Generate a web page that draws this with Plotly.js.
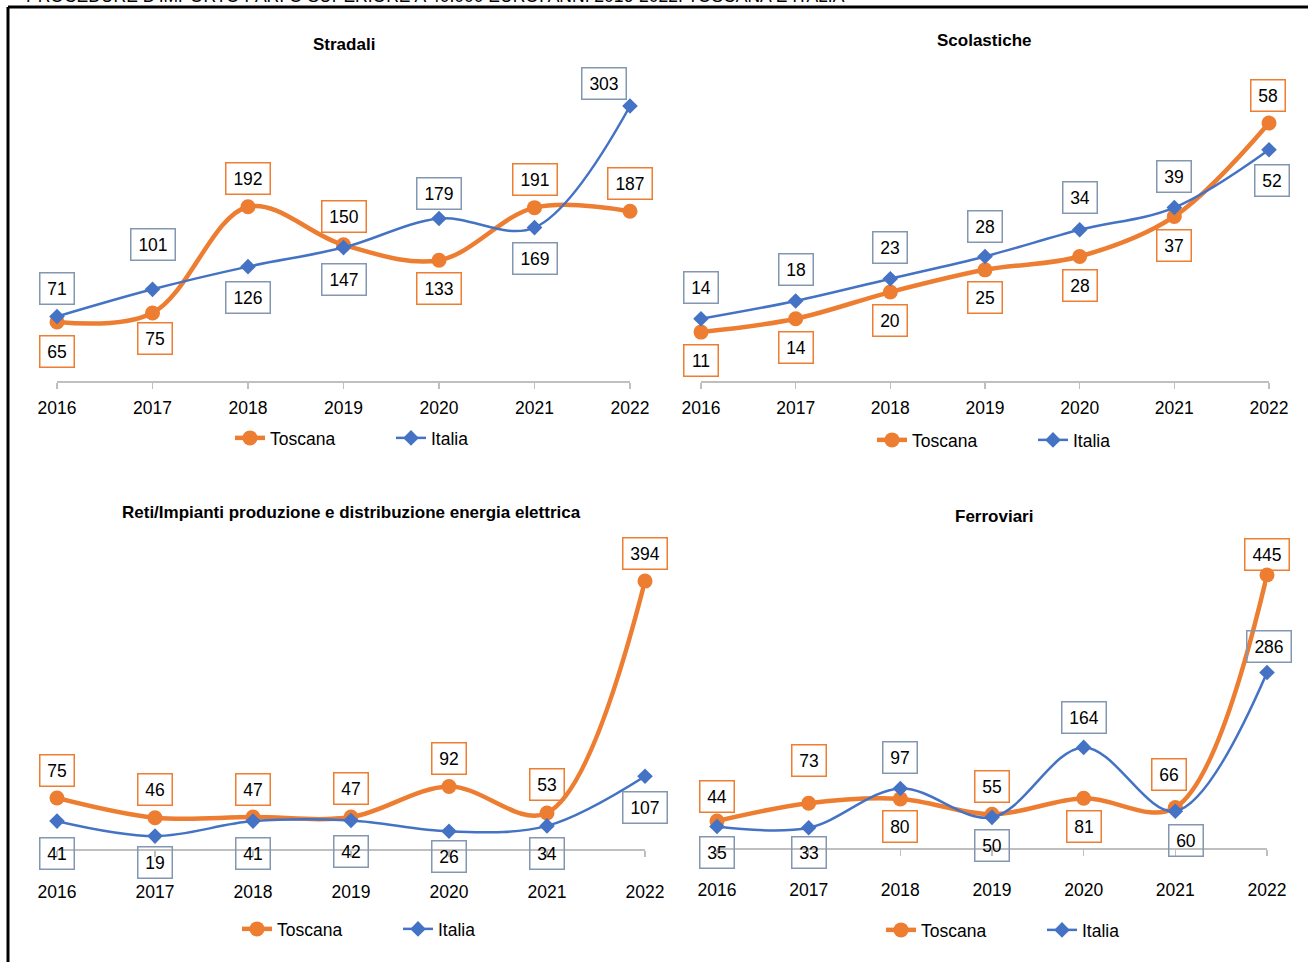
<!DOCTYPE html>
<html>
<head>
<meta charset="utf-8">
<script src="https://cdn.plot.ly/plotly-3.0.1.min.js"></script>
<style>html,body{margin:0;padding:0;background:#fff;}#chart{width:1308px;height:962px;}</style>
</head>
<body>
<div id="chart"></div>
<script>
// ---------------- DATA ----------------
const categories = ['2016', '2017', '2018', '2019', '2020', '2021', '2022'];
const seriesNames = ['Toscana', 'Italia'];

const stradaliToscana = [65, 75, 192, 150, 133, 191, 187];
const stradaliItalia = [71, 101, 126, 147, 179, 169, 303];

const scolasticheToscana = [11, 14, 20, 25, 28, 37, 58];
const scolasticheItalia = [14, 18, 23, 28, 34, 39, 52];

const retiToscana = [75, 46, 47, 47, 92, 53, 394];
const retiItalia = [41, 19, 41, 42, 26, 34, 107];

const ferroviariToscana = [44, 73, 80, 55, 81, 66, 445];
const ferroviariItalia = [35, 33, 97, 50, 164, 60, 286];

const panelTitles = ['Stradali', 'Scolastiche', 'Reti/Impianti produzione e distribuzione energia elettrica', 'Ferroviari'];
const headerText = "PROCEDURE D'IMPORTO PARI O SUPERIORE A 40.000 EURO. ANNI 2016-2022. TOSCANA E ITALIA";

// ---------------- LAYOUT / STYLE ----------------
const W = 1308, H = 962;
const ORANGE = '#ED7D31', BLUE = '#4472C4', LABEL_BLUE = '#8497B0', AXIS = '#BFBFBF';
const FONT = '"Liberation Sans", Arial, sans-serif';
const FS = 17.5;

// label offsets in pixels (positive yshift = up)
const panels = [
  { tosc: stradaliToscana, ital: stradaliItalia, left: 57, right: 630, axisY: 381, ppu: 0.9076, ymax: 350,
    titleX: 344, titleY: 44, legX: 230, legY: 438, standoff: 4,
    tY: [-29, -26, 28, 28, -28, 28, 28], tX: [0, 2, 0, 0, 0, 0, 0],
    iY: [28, 45, -31, -32, 25, -31, 23], iX: [0, 0, 0, 0, 0, 0, -26] },
  { tosc: scolasticheToscana, ital: scolasticheItalia, left: 701, right: 1269, axisY: 381, ppu: 4.447, ymax: 70,
    titleX: 984, titleY: 40, legX: 872, legY: 440, standoff: 4,
    tY: [-28, -29, -28, -28, -29, -29, 28], tX: [0, 0, 0, 0, 0, 0, -1],
    iY: [31, 31, 31, 30, 32, 31, -31], iX: [0, 0, 0, 0, 0, 0, 3] },
  { tosc: retiToscana, ital: retiItalia, left: 57, right: 645, axisY: 849, ppu: 0.680, ymax: 450,
    titleX: 351, titleY: 512, legX: 237, legY: 929, standoff: 20,
    tY: [28, 28, 28, 29, 28, 28, 28], tX: [0, 0, 0, 0, 0, 0, 0],
    iY: [-32, -26, -32, -31, -25, -28, -31], iX: [0, 0, 0, 0, 0, 0, 0] },
  { tosc: ferroviariToscana, ital: ferroviariItalia, left: 717, right: 1267, axisY: 848, ppu: 0.6135, ymax: 500,
    titleX: 994, titleY: 516, legX: 881, legY: 930, standoff: 19,
    tY: [25, 43, -28, 28, -28, 33, 20], tX: [0, 0, 0, 0, 0, -6, 0],
    iY: [-26, -25, 31, -28, 30, -29, 26], iX: [0, 0, 0, 0, 0, 11, 2] }
];

const px = v => v / W;
const py = v => 1 - v / H;

const data = [];
const layout = {
  width: W, height: H, autosize: false,
  margin: { l: 0, r: 0, t: 0, b: 0 },
  paper_bgcolor: '#fff', plot_bgcolor: 'rgba(0,0,0,0)',
  font: { family: FONT, size: FS, color: '#000' },
  showlegend: true,
  annotations: [],
  shapes: [
    { type: 'line', xref: 'paper', yref: 'paper', x0: px(8), x1: px(1310), y0: py(7), y1: py(7), line: { color: '#000', width: 3 } },
    { type: 'line', xref: 'paper', yref: 'paper', x0: px(8), x1: px(8), y0: py(7), y1: py(965), line: { color: '#000', width: 3 } }
  ]
};

layout.annotations.push({
  xref: 'paper', yref: 'paper', x: px(24), y: py(8), xanchor: 'left', yanchor: 'bottom',
  text: headerText, showarrow: false, font: { family: FONT, size: 17.5, color: '#000' }
});

panels.forEach((p, i) => {
  const n = i + 1;
  const xa = 'xaxis' + (n === 1 ? '' : n), ya = 'yaxis' + (n === 1 ? '' : n);
  const xr = 'x' + (n === 1 ? '' : n), yr = 'y' + (n === 1 ? '' : n);
  const ovN = n + 4;
  const xdom = [px(p.left), px(p.right)];
  const ydom = [py(p.axisY), py(p.axisY - p.ymax * p.ppu)];

  layout[xa] = {
    domain: xdom, anchor: yr, type: 'category', range: [0, categories.length - 1],
    showline: true, linecolor: AXIS, linewidth: 1.5,
    ticks: 'outside', ticklen: 6, tickwidth: 1.5, tickcolor: AXIS,
    showgrid: false, zeroline: false, fixedrange: true,
    tickfont: { family: FONT, size: FS, color: '#000' }, ticklabelstandoff: p.standoff
  };
  layout['xaxis' + ovN] = {
    domain: xdom, anchor: yr, overlaying: xr, type: 'linear', range: [0, categories.length - 1],
    tickvals: categories.map((c, k) => k), showticklabels: false,
    ticks: 'inside', ticklen: 6, tickwidth: 1.5, tickcolor: AXIS,
    showline: false, showgrid: false, zeroline: false, fixedrange: true
  };
  layout[ya] = {
    domain: ydom, anchor: xr, range: [0, p.ymax], visible: false, fixedrange: true
  };

  const legKey = 'legend' + (n === 1 ? '' : n);
  layout[legKey] = {
    orientation: 'h', x: px(p.legX), y: py(p.legY), xanchor: 'left', yanchor: 'middle',
    font: { family: FONT, size: FS, color: '#000' }, bgcolor: 'rgba(0,0,0,0)',
    entrywidth: 116, entrywidthmode: 'pixels', itemclick: false
  };

  data.push({
    x: categories, y: p.tosc, xaxis: xr, yaxis: yr, name: seriesNames[0], legend: legKey,
    type: 'scatter', mode: 'lines+markers', cliponaxis: false,
    line: { color: ORANGE, width: 4.5, shape: 'spline', smoothing: 1 },
    marker: { symbol: 'circle', size: 15, color: ORANGE }, hoverinfo: 'skip'
  });
  data.push({
    x: categories, y: p.ital, xaxis: xr, yaxis: yr, name: seriesNames[1], legend: legKey,
    type: 'scatter', mode: 'lines+markers', cliponaxis: false,
    line: { color: BLUE, width: 2.5, shape: 'spline', smoothing: 1 },
    marker: { symbol: 'diamond', size: 12, color: BLUE }, hoverinfo: 'skip'
  });

  const addLabels = (vals, ys, xs, color) => {
    vals.forEach((v, k) => {
      const s = String(v);
      layout.annotations.push({
        xref: xr, yref: yr, x: k, y: v, text: s, showarrow: false,
        xanchor: 'center', yanchor: 'middle', yshift: ys[k], xshift: xs[k],
        width: s.length >= 3 ? 37 : 27, height: 24, align: 'center', valign: 'middle',
        bordercolor: color, borderwidth: 1.5, borderpad: 3, bgcolor: 'rgba(0,0,0,0)',
        font: { family: FONT, size: FS, color: '#000' }
      });
    });
  };
  addLabels(p.tosc, p.tY, p.tX, ORANGE);
  addLabels(p.ital, p.iY, p.iX, LABEL_BLUE);

  layout.annotations.push({
    xref: 'paper', yref: 'paper', x: px(p.titleX), y: py(p.titleY), xanchor: 'center', yanchor: 'middle',
    text: '<b>' + panelTitles[i] + '</b>', showarrow: false,
    font: { family: FONT, size: 17, color: '#000' }
  });
});

Plotly.newPlot('chart', data, layout, { staticPlot: true, displayModeBar: false });
</script>
</body>
</html>
